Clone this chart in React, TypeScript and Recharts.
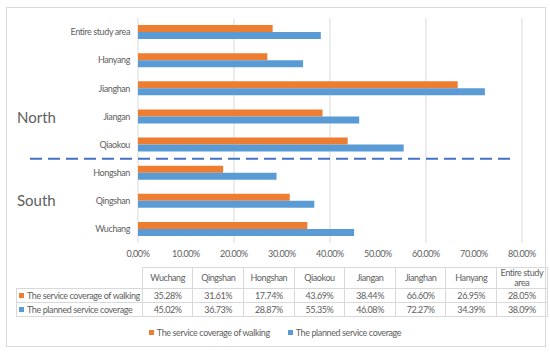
import { BarChart, Bar, XAxis, YAxis, CartesianGrid, ReferenceLine } from 'recharts';

// table order (bottom to top on the chart)
const districts = ['Wuchang', 'Qingshan', 'Hongshan', 'Qiaokou', 'Jiangan', 'Jianghan', 'Hanyang', 'Entire study area'];
const walking = [35.28, 31.61, 17.74, 43.69, 38.44, 66.6, 26.95, 28.05];
const planned = [45.02, 36.73, 28.87, 55.35, 46.08, 72.27, 34.39, 38.09];
const xTicks = [0, 10, 20, 30, 40, 50, 60, 70, 80];

const seriesNames = ['The service coverage of walking', 'The planned service coverage'];
const ORANGE = '#ED7D31';
const BLUE = '#5B9BD5';
const TEXT = '#606060';
const FONT = 'Lato, "Open Sans", sans-serif';
const SQUEEZE = '-0.4px'; // Lato runs wider than the original's font

const data = districts.map((name, i) => ({ name, walking: walking[i], planned: planned[i] }));

const fmt = (v: number) => `${v.toFixed(2)}%`;

function Key({ color }: { color: string }) {
  return <span style={{ display: 'inline-block', width: 5, height: 5, background: color, marginRight: 3, verticalAlign: 'middle', position: 'relative', top: -1 }} />;
}

export default function App() {
  const cell: React.CSSProperties = { border: '1px solid #d9d9d9', textAlign: 'center', padding: 0, width: 49.6 };
  const tickStyle = { fontSize: 9, fill: TEXT, fontFamily: FONT, letterSpacing: SQUEEZE };
  return (
    <div style={{ position: 'relative', width: 550, height: 353, background: '#fff', fontFamily: FONT, color: TEXT, letterSpacing: SQUEEZE }}>
      <style>{'body{margin:0}'}</style>
      <div style={{ position: 'absolute', left: 6, top: 7, width: 538, height: 338, border: '1px solid #d9d9d9' }} />

      <div style={{ position: 'absolute', left: 17, top: 108, fontSize: 15, letterSpacing: 0 }}>North</div>
      <div style={{ position: 'absolute', left: 17, top: 191, fontSize: 15, letterSpacing: 0 }}>South</div>

      <div style={{ position: 'absolute', left: 0, top: 0 }}>
        <BarChart
          width={550}
          height={265}
          data={data}
          layout="vertical"
          margin={{ top: 18, right: 28, left: 8, bottom: 2 }}
          barCategoryGap="25%"
          barGap={0}
        >
          <CartesianGrid horizontal={false} stroke="#d9d9d9" />
          <XAxis
            type="number"
            domain={[0, 80]}
            ticks={xTicks}
            tickFormatter={fmt}
            axisLine={false}
            tickLine={false}
            tickSize={0}
            tickMargin={8}
            height={20}
            tick={tickStyle}
          />
          <YAxis
            type="category"
            dataKey="name"
            reversed
            width={130}
            axisLine={false}
            tickLine={false}
            tickSize={0}
            tickMargin={8}
            interval={0}
            tick={tickStyle}
          />
          <Bar dataKey="walking" name={seriesNames[0]} fill={ORANGE} isAnimationActive={false} />
          <Bar dataKey="planned" name={seriesNames[1]} fill={BLUE} isAnimationActive={false} />
          <ReferenceLine
            segment={[{ x: -22.5, y: 'Hongshan' }, { x: 77.5, y: 'Hongshan' }]}
            position="start"
            ifOverflow="visible"
            stroke="#4472C4"
            strokeWidth={2}
            strokeDasharray="12 6"
          />
        </BarChart>
      </div>

      <table style={{ position: 'absolute', left: 16, top: 267, borderCollapse: 'collapse', fontSize: 9, fontFamily: FONT, color: TEXT, tableLayout: 'fixed' }}>
        <tbody>
          <tr style={{ height: 21 }}>
            <td style={{ width: 122, padding: 0 }} />
            {districts.map((d) => (
              <td key={d} style={{ ...cell, lineHeight: '10px' }}>{d}</td>
            ))}
          </tr>
          {[walking, planned].map((vals, r) => (
            <tr key={r} style={{ height: 14 }}>
              <td style={{ border: '1px solid #d9d9d9', padding: '0 2px', whiteSpace: 'nowrap' }}>
                <Key color={r === 0 ? ORANGE : BLUE} />
                {seriesNames[r]}
              </td>
              {vals.map((v, i) => (
                <td key={i} style={cell}>{fmt(v)}</td>
              ))}
            </tr>
          ))}
        </tbody>
      </table>

      <div style={{ position: 'absolute', left: 0, width: 550, top: 327, textAlign: 'center', fontSize: 9 }}>
        <span style={{ marginRight: 18 }}><Key color={ORANGE} />{seriesNames[0]}</span>
        <span><Key color={BLUE} />{seriesNames[1]}</span>
      </div>
    </div>
  );
}
